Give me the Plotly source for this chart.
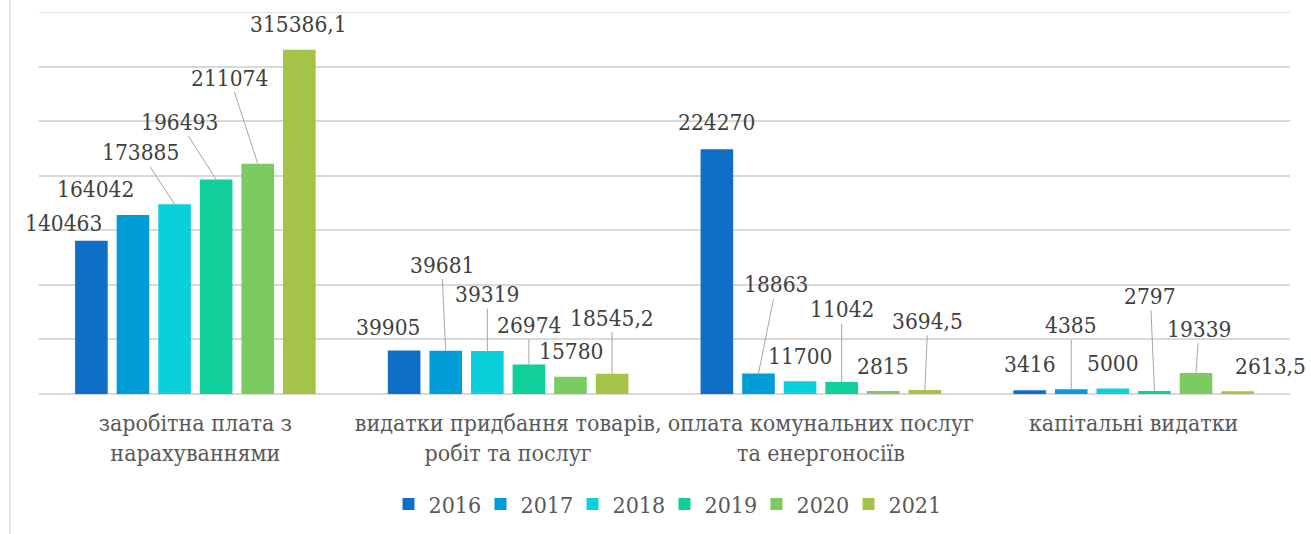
import plotly.graph_objects as go

# ---- data ----
categories = [
    "заробітна плата з<br>нарахуваннями",
    "видатки придбання товарів,<br>робіт та послуг",
    "оплата комунальних послуг<br>та енергоносіїв",
    "капітальні видатки",
]
years = ["2016", "2017", "2018", "2019", "2020", "2021"]
v2016 = [140463, 39905, 224270, 3416]
v2017 = [164042, 39681, 18863, 4385]
v2018 = [173885, 39319, 11700, 5000]
v2019 = [196493, 26974, 11042, 2797]
v2020 = [211074, 15780, 2815, 19339]
v2021 = [315386.1, 18545.2, 3694.5, 2613.5]
series = [v2016, v2017, v2018, v2019, v2020, v2021]
y_max = 350000
y_step = 50000

# ---- style ----
colors = ["#0F6FC6", "#009DD9", "#0BD0D9", "#10CF9B", "#7CCA62", "#A5C249"]
FONT = "DejaVu Serif Condensed, DejaVu Serif, serif"
BARGAP = 0.202
BARGROUPGAP = 0.216
GRID = "#D9D9D9"

# label offsets in pixels from bar top (dx, dy, leader line?) per series, per category
label_style = [
    [(-28, -17, False), (-16, -22, False), (0, -26, False), (0, -25, False)],
    [(-37, -25, False), (-4, -85, True), (18, -88, True), (0, -63, True)],
    [(-34, -51, True), (0, -56, True), (0, -24, False), (0, -25, False)],
    [(-37, -57, True), (0, -39, True), (0, -72, True), (-4, -94, True)],
    [(-28, -85, True), (0, -25, False), (0, -24, False), (3, -43, True)],
    [(-1, -25, False), (0, -55, True), (3, -68, True), (33, -24, False)],
]


def fmt(v):
    if float(v).is_integer():
        return str(int(v))
    return ("%s" % v).replace(".", ",")


fig = go.Figure()
for j, (yr, vals) in enumerate(zip(years, series)):
    fig.add_trace(go.Bar(
        name=yr, x=categories, y=vals,
        marker=dict(color=colors[j], line=dict(width=0)),
        hoverinfo="skip",
    ))

slot = (1 - BARGAP) / len(years)
annotations = []
for j, vals in enumerate(series):
    for i, v in enumerate(vals):
        dx, dy, leader = label_style[j][i]
        annotations.append(dict(
            x=i + (j - (len(years) - 1) / 2) * slot, y=v,
            xref="x", yref="y",
            text=fmt(v), showarrow=True,
            ax=dx, ay=dy - 1, axref="pixel", ayref="pixel",
            arrowhead=0, arrowwidth=1, standoff=0,
            arrowcolor="#A6A6A6" if leader else "rgba(0,0,0,0)",
            font=dict(family=FONT, size=22.5, color="#404040"),
        ))

fig.update_layout(
    width=1311, height=534,
    margin=dict(l=39, r=21, t=12, b=140, autoexpand=False),
    paper_bgcolor="white", plot_bgcolor="white",
    barmode="group", bargap=BARGAP, bargroupgap=BARGROUPGAP,
    showlegend=True,
    legend=dict(
        orientation="h", xref="paper", x=0.5, xanchor="center",
        y=-0.288, yanchor="middle",
        font=dict(family=FONT, size=23, color="#595959"),
        itemwidth=30, traceorder="normal",
        entrywidth=47, entrywidthmode="pixels",
    ),
    annotations=annotations,
    shapes=[
        dict(type="line", xref="paper", yref="paper",
             x0=-0.0232, x1=-0.0232, y0=-0.37, y1=1.04,
             line=dict(color=GRID, width=1.5)),
        dict(type="line", xref="paper", yref="y", layer="below",
             x0=0, x1=1, y0=y_max, y1=y_max,
             line=dict(color=GRID, width=1.5)),
    ],
)
fig.update_yaxes(range=[0, y_max], dtick=y_step, showticklabels=False,
                 showgrid=True, gridcolor=GRID, gridwidth=1.5,
                 zeroline=True, zerolinecolor=GRID, zerolinewidth=1.5,
                 fixedrange=True, automargin=False)
fig.update_xaxes(range=[-0.5, len(categories) - 0.5],
                 showgrid=False, ticks="", showline=False, tickangle=0,
                 automargin=False,
                 tickfont=dict(family=FONT, size=23, color="#595959"),
                 ticklabelstandoff=13, fixedrange=True)

fig.write_html("out.html", config={"displayModeBar": False},
               post_script="document.body.style.margin='0';")
